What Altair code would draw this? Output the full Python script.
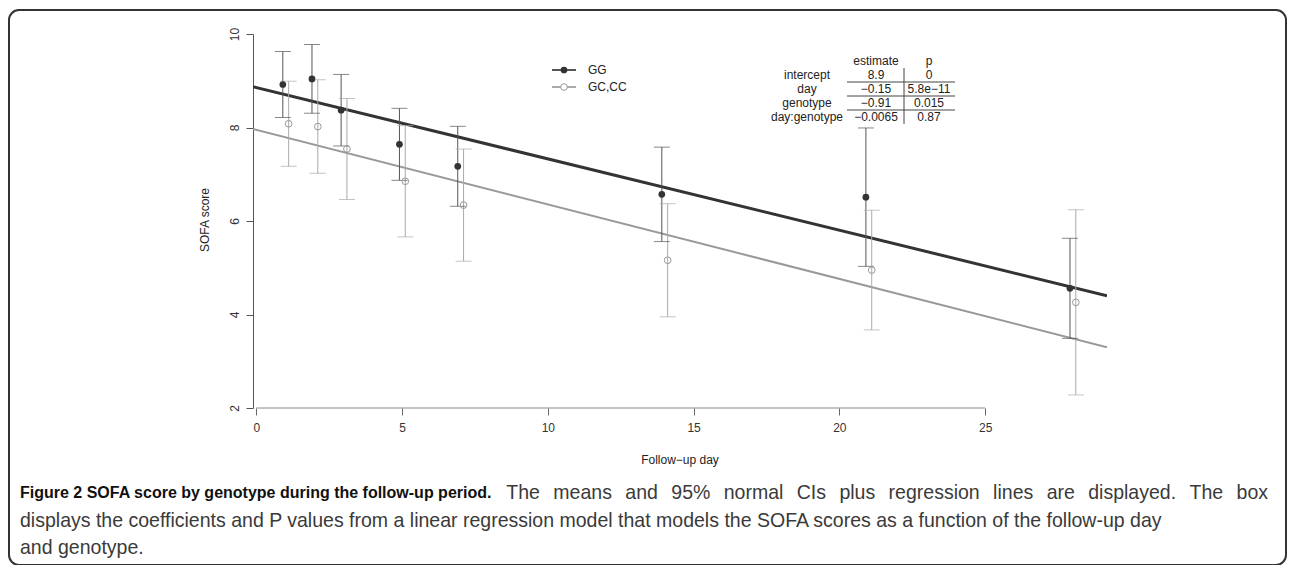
import altair as alt
import pandas as pd

# ---------------- data ----------------
days = [1, 2, 3, 5, 7, 14, 21, 28]
groups = ["GG", "GC,CC"]
dodge = [-0.09, 0.11]
gg_mean = [8.92, 9.04, 8.37, 7.64, 7.17, 6.57, 6.51, 4.56]
gg_half = [0.705, 0.735, 0.765, 0.77, 0.855, 1.01, 1.48, 1.07]
gc_mean = [8.08, 8.02, 7.54, 6.85, 6.34, 5.16, 4.95, 4.26]
gc_half = [0.91, 1.00, 1.08, 1.19, 1.20, 1.21, 1.28, 1.98]
reg_intercept = [8.855, 7.95]
reg_slope = [-0.1526, -0.1594]

coef_names = ["intercept", "day", "genotype", "day:genotype"]
coef_est = ["8.9", "\u22120.15", "\u22120.91", "\u22120.0065"]
coef_p = ["0", "5.8e\u221211", "0.015", "0.87"]
table_header = ["estimate", "p"]

x_ticks = [0, 5, 10, 15, 20, 25]
y_ticks = [2, 4, 6, 8, 10]
x_domain = [-0.113, 29.18]
y_domain = [2, 10]

caption_bold = "Figure 2 SOFA score by genotype during the follow-up period."
caption_l1 = "The means and 95% normal CIs plus regression lines are displayed. The box"
caption_l2 = ("displays the coefficients and P values from a linear regression model that "
              "models the SOFA scores as a function of the follow-up day")
caption_l3 = "and genotype."

# ---------------- helpers: Arial/Liberation Sans advance widths (1/1000 em) ----------------
REG = {" ": 278, "%": 889, "-": 333, ".": 278, ",": 278, ":": 278,
       "A": 667, "C": 722, "F": 611, "I": 278, "O": 778, "P": 667, "S": 667, "T": 611,
       "a": 556, "b": 556, "c": 500, "d": 556, "e": 556, "f": 278, "g": 556, "h": 556,
       "i": 222, "j": 222, "k": 500, "l": 222, "m": 833, "n": 556, "o": 556, "p": 556,
       "q": 556, "r": 333, "s": 500, "t": 278, "u": 556, "v": 500, "w": 722, "x": 500,
       "y": 500, "z": 500}
BLD = {" ": 278, "%": 889, "-": 333, ".": 278, ",": 278, ":": 333,
       "A": 722, "C": 722, "F": 611, "I": 278, "O": 778, "P": 667, "S": 667, "T": 611,
       "a": 556, "b": 611, "c": 556, "d": 611, "e": 556, "f": 333, "g": 611, "h": 611,
       "i": 278, "j": 278, "k": 556, "l": 278, "m": 889, "n": 611, "o": 611, "p": 611,
       "q": 611, "r": 389, "s": 556, "t": 333, "u": 611, "v": 556, "w": 778, "x": 556,
       "y": 556, "z": 500}


def em(s, table):
    return sum(table.get(c, 556) for c in s) / 1000.0


# ---------------- tables ----------------
rows = []
for g, off, means, halves in [(groups[0], dodge[0], gg_mean, gg_half),
                              (groups[1], dodge[1], gc_mean, gc_half)]:
    for d, m, h in zip(days, means, halves):
        rows.append({"group": g, "x": d + off, "mean": m, "lo": m - h, "hi": m + h})
pts = pd.DataFrame(rows)

reg_rows = []
for g, b0, b1 in zip(groups, reg_intercept, reg_slope):
    for xv in x_domain:
        reg_rows.append({"group": g, "x": xv, "y": b0 + b1 * xv})
reg = pd.DataFrame(reg_rows)

W, H = 854, 374
FONT = "Liberation Sans"
OX, OY = 253, 34  # page position of the plot origin

xs = alt.Scale(domain=x_domain, nice=False, zero=False)
ys = alt.Scale(domain=y_domain, nice=False, zero=False)

base_pts = alt.Chart(pts)

line_gg = alt.Chart(reg[reg.group == groups[0]]).mark_line(
    color="#333333", strokeWidth=3, clip=True).encode(
    x=alt.X("x:Q", scale=xs, axis=alt.Axis(values=x_ticks, domain=False, grid=False,
            tickSize=7, tickColor="#666666", labelFontSize=12, labelColor="#333333",
            labelFont=FONT, labelPadding=7, title=None)),
    y=alt.Y("y:Q", scale=ys, axis=alt.Axis(values=y_ticks, grid=False, domainColor="#555555",
            tickColor="#555555", tickSize=7, labelAngle=270, labelAlign="center",
            labelBaseline="bottom", labelPadding=5, labelFontSize=12, labelColor="#333333",
            labelFont=FONT, title=None)))
line_gc = alt.Chart(reg[reg.group == groups[1]]).mark_line(
    color="#999999", strokeWidth=2, clip=True).encode(
    x=alt.X("x:Q", scale=xs), y=alt.Y("y:Q", scale=ys))

bar_color = alt.Color("group:N", scale=alt.Scale(domain=groups, range=["#555555", "#aaaaaa"]),
                      legend=None)
bars = base_pts.mark_rule(strokeWidth=1).encode(
    x=alt.X("x:Q", scale=xs), y=alt.Y("lo:Q", scale=ys), y2="hi:Q", color=bar_color)
cap_lo = base_pts.mark_tick(orient="horizontal", size=16, thickness=1).encode(
    x=alt.X("x:Q", scale=xs), y=alt.Y("lo:Q", scale=ys), color=bar_color)
cap_hi = base_pts.mark_tick(orient="horizontal", size=16, thickness=1).encode(
    x=alt.X("x:Q", scale=xs), y=alt.Y("hi:Q", scale=ys), color=bar_color)

pt_gg = alt.Chart(pts[pts.group == groups[0]]).mark_point(
    filled=True, color="#333333", size=45, opacity=1).encode(
    x=alt.X("x:Q", scale=xs), y=alt.Y("mean:Q", scale=ys))
pt_gc = alt.Chart(pts[pts.group == groups[1]]).mark_point(
    filled=False, color="#999999", size=45, strokeWidth=1, opacity=1).encode(
    x=alt.X("x:Q", scale=xs), y=alt.Y("mean:Q", scale=ys))

xline = alt.Chart(pd.DataFrame({"x0": [x_ticks[0]], "x1": [x_ticks[-1]], "y": [y_ticks[0]]})).mark_rule(
    color="#888888", strokeWidth=1).encode(
    x=alt.X("x0:Q", scale=xs), x2="x1:Q", y=alt.Y("y:Q", scale=ys))

ytitle = alt.Chart(pd.DataFrame({"t": ["SOFA score"]})).mark_text(
    angle=270, fontSize=12, font=FONT, color="#222222").encode(
    text="t:N", x=alt.value(-48), y=alt.value(186))
xtitle = alt.Chart(pd.DataFrame({"t": ["Follow\u2212up day"]})).mark_text(
    fontSize=12, font=FONT, color="#222222").encode(
    text="t:N", x=alt.value(W / 2), y=alt.value(426))

# legend (manual)
leg_df = pd.DataFrame({"group": groups, "ly": [36, 53]})
leg_line = alt.Chart(leg_df).mark_rule(strokeWidth=2).encode(
    x=alt.value(299), x2=alt.value(323), y=alt.Y("ly:Q", scale=None),
    color=alt.Color("group:N", scale=alt.Scale(domain=groups, range=["#333333", "#999999"]), legend=None))
leg_pt_gg = alt.Chart(leg_df[leg_df.group == groups[0]]).mark_point(
    filled=True, color="#333333", size=45, opacity=1).encode(x=alt.value(311), y=alt.Y("ly:Q", scale=None))
leg_pt_gc = alt.Chart(leg_df[leg_df.group == groups[1]]).mark_point(
    filled=True, fill="white", stroke="#999999", strokeWidth=1, size=45, opacity=1).encode(
    x=alt.value(311), y=alt.Y("ly:Q", scale=None))
leg_txt = alt.Chart(leg_df).mark_text(align="left", fontSize=12, font=FONT, color="#222222").encode(
    text="group:N", x=alt.value(335), y=alt.Y("ly:Q", scale=None))

# coefficient table
row_y0, row_h = 41, 14
tab_df = pd.DataFrame({"name": coef_names, "est": coef_est, "p": coef_p,
                       "ty": [row_y0 + i * row_h for i in range(len(coef_names))]})
tname = alt.Chart(tab_df).mark_text(fontSize=12, font=FONT, color="#222222").encode(
    text="name:N", x=alt.value(554), y=alt.Y("ty:Q", scale=None))
test = alt.Chart(tab_df).mark_text(fontSize=12, font=FONT, color="#222222").encode(
    text="est:N", x=alt.value(623), y=alt.Y("ty:Q", scale=None))
tp = alt.Chart(tab_df).mark_text(fontSize=12, font=FONT, color="#222222").encode(
    text="p:N", x=alt.value(676), y=alt.Y("ty:Q", scale=None))
hdr_df = pd.DataFrame({"h": table_header, "hx": [623, 676]})
thdr = alt.Chart(hdr_df).mark_text(fontSize=12, font=FONT, color="#222222").encode(
    text="h:N", x=alt.X("hx:Q", scale=None), y=alt.value(row_y0 - row_h))
hl_df = pd.DataFrame({"hy": [row_y0 + row_h / 2 + i * row_h for i in range(len(coef_names) - 1)]})
thl = alt.Chart(hl_df).mark_rule(color="#444444", strokeWidth=1).encode(
    x=alt.value(594), x2=alt.value(702), y=alt.Y("hy:Q", scale=None))
tvl = alt.Chart(pd.DataFrame({"a": [0]})).mark_rule(color="#444444", strokeWidth=1).encode(
    x=alt.value(651), y=alt.value(row_y0 - row_h / 2), y2=alt.value(row_y0 + (len(coef_names) - 0.5) * row_h))

# ---------------- caption (justified first line) ----------------
left_px, right_px = 20, 1268
line2_px = 1145
reg_size = line2_px / em(caption_l2, REG)
bold_size = 16
bold_w = em(caption_bold, BLD) * bold_size
words = caption_l1.split(" ")
word_w = [em(w, REG) * reg_size for w in words]
start = left_px + bold_w
gap = (right_px - start - sum(word_w)) / len(words)
wx, cur = [], start + gap
for w in word_w:
    wx.append(cur - OX)
    cur += w + gap
words_df = pd.DataFrame({"w": words, "wx": wx})

cap_b = alt.Chart(pd.DataFrame({"t": [caption_bold]})).mark_text(
    align="left", fontSize=bold_size, font=FONT, fontWeight="bold", color="#111111").encode(
    text="t:N", x=alt.value(left_px - OX), y=alt.value(459))
cap_1 = alt.Chart(words_df).mark_text(
    align="left", fontSize=reg_size, font=FONT, color="#3a3a3a").encode(
    text="w:N", x=alt.X("wx:Q", scale=None), y=alt.value(459))
cap_2 = alt.Chart(pd.DataFrame({"t": [caption_l2]})).mark_text(
    align="left", fontSize=reg_size, font=FONT, color="#3a3a3a").encode(
    text="t:N", x=alt.value(left_px - OX), y=alt.value(487))
cap_3 = alt.Chart(pd.DataFrame({"t": [caption_l3]})).mark_text(
    align="left", fontSize=reg_size, font=FONT, color="#3a3a3a").encode(
    text="t:N", x=alt.value(left_px - OX), y=alt.value(514))
frame = alt.Chart(pd.DataFrame({"a": [0]})).mark_rect(
    fill=None, filled=False, stroke="#333333", strokeWidth=2, cornerRadius=10).encode(
    x=alt.value(-244), x2=alt.value(1033), y=alt.value(-24), y2=alt.value(531))

chart = alt.layer(
    line_gg, line_gc, bars, cap_lo, cap_hi, pt_gg, pt_gc, xline,
    ytitle, xtitle, leg_line, leg_pt_gg, leg_pt_gc, leg_txt,
    tname, test, tp, thdr, thl, tvl, cap_b, cap_1, cap_2, cap_3, frame
).properties(
    width=W, height=H,
    autosize=alt.AutoSizeParams(type="none"),
    padding={"left": 245, "top": 26, "right": 180, "bottom": 157},
    background="white"
).configure_view(stroke=None)

chart.save("out.html", embed_options={"renderer": "svg", "actions": False})
